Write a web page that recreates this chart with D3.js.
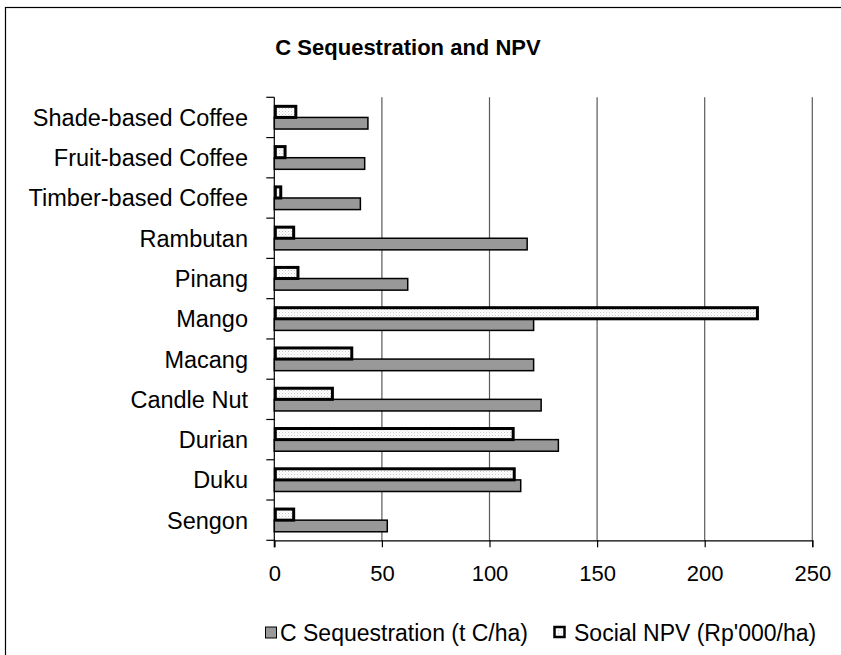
<!DOCTYPE html>
<html><head><meta charset="utf-8">
<script src="https://cdn.jsdelivr.net/npm/d3@7"></script>
<style>body{margin:0;background:#fff}svg{display:block}text{font-family:"Liberation Sans",Arial,sans-serif}</style>
</head><body><svg id="c" width="841" height="655"></svg>
<script>
const categories = ["Shade-based Coffee","Fruit-based Coffee","Timber-based Coffee","Rambutan","Pinang","Mango","Macang","Candle Nut","Durian","Duku","Sengon"];
const cSequestration = [43.5,42,40,117.5,62,120.5,120.5,124,132,114.5,52.5];
const socialNPV = [10,5,3,9,11,224.5,36,27,111,111.5,9];
const xTicks = [0,50,100,150,200,250];
const seriesNames = ["Social NPV (Rp'000/ha)","C Sequestration (t C/ha)"];

const svg = d3.select("#c");
const defs = svg.append("defs");
const pat = defs.append("pattern").attr("id","dots").attr("width",3).attr("height",3).attr("patternUnits","userSpaceOnUse");
pat.append("rect").attr("width",3).attr("height",3).attr("fill","#fff");
pat.append("rect").attr("x",0).attr("y",0).attr("width",1).attr("height",1).attr("fill","#c8c8c8");
pat.append("rect").attr("x",1.5).attr("y",1.5).attr("width",1).attr("height",1).attr("fill","#dcdcdc");

// outer border
svg.append("rect").attr("x",5.5).attr("y",7.5).attr("width",900).attr("height",700).attr("fill","none").attr("stroke","#000").attr("stroke-width",1.2);

const L=274.3, R=812.3, T=97.3, B=540.3;
const x = d3.scaleLinear().domain([0,250]).range([L,R]);
const y0 = d3.scaleBand().domain(categories).range([T,B]).padding(0);
const y1 = d3.scaleBand().domain(["npv","cseq"]).range([0,y0.bandwidth()]).paddingInner(0).paddingOuter(0.735);

// title
svg.append("text").attr("x",408).attr("y",55).attr("text-anchor","middle").attr("font-weight","bold").attr("font-size",22).text("C Sequestration and NPV");

// gridlines
svg.append("g").selectAll("line").data(xTicks.filter(d=>d>0)).join("line")
  .attr("x1",d=>x(d)).attr("x2",d=>x(d)).attr("y1",T).attr("y2",B)
  .attr("stroke","#5a5a5a").attr("stroke-width",1.2);

// x axis
const xa = svg.append("g").attr("transform",`translate(0,${B})`)
  .call(d3.axisBottom(x).tickValues(xTicks).tickSize(7).tickPadding(18).tickFormat(d3.format("d")));
xa.select(".domain").attr("stroke","#000").attr("stroke-width",1.2);
xa.selectAll(".tick line").attr("stroke","#000").attr("stroke-width",1.2);
xa.selectAll("text").attr("font-size",22).attr("fill","#000").attr("font-family","Liberation Sans, Arial, sans-serif");

// y axis boundaries ticks
const bounds = categories.map(c=>y0(c)).concat([B]);
svg.append("g").selectAll("line").data(bounds).join("line")
  .attr("x1",L-8).attr("x2",L).attr("y1",d=>d).attr("y2",d=>d).attr("stroke","#000").attr("stroke-width",1.2);
svg.append("line").attr("x1",L).attr("x2",L).attr("y1",T).attr("y2",B+7).attr("stroke","#000").attr("stroke-width",1.2);

// category labels
svg.append("g").selectAll("text").data(categories).join("text")
  .attr("x",248).attr("y",d=>y0(d)+y0.bandwidth()/2).attr("dy","0.36em")
  .attr("text-anchor","end").attr("font-size",23.5).attr("fill","#000").text(d=>d);

// bars
const g = svg.append("g");
g.selectAll("rect.cs").data(categories).join("rect").attr("class","cs")
  .attr("x",x(0)).attr("y",(d)=>y0(d)+y1("cseq"))
  .attr("width",(d,i)=>x(cSequestration[i])-x(0)).attr("height",y1.bandwidth())
  .attr("fill","#999999").attr("stroke","#000").attr("stroke-width",1.5);
g.selectAll("rect.np").data(categories).join("rect").attr("class","np")
  .attr("x",x(0)+1).attr("y",(d)=>y0(d)+y1("npv")+0.5)
  .attr("width",(d,i)=>x(socialNPV[i])-x(0)-1).attr("height",y1.bandwidth()-0.5)
  .attr("fill","url(#dots)").attr("stroke","#000").attr("stroke-width",3);

// legend
const lg = svg.append("g").attr("transform","translate(0,633)");
lg.append("rect").attr("x",265.5).attr("y",-6).attr("width",11).attr("height",11).attr("fill","#999999").attr("stroke","#000").attr("stroke-width",1);
lg.append("text").attr("x",280).attr("y",0).attr("dy","0.36em").attr("font-size",23).text(seriesNames[1]);
lg.append("rect").attr("x",554.5).attr("y",-6).attr("width",10).attr("height",10).attr("fill","url(#dots)").attr("stroke","#000").attr("stroke-width",2.5);
lg.append("text").attr("x",574).attr("y",0).attr("dy","0.36em").attr("font-size",23).text(seriesNames[0]);
</script></body></html>
